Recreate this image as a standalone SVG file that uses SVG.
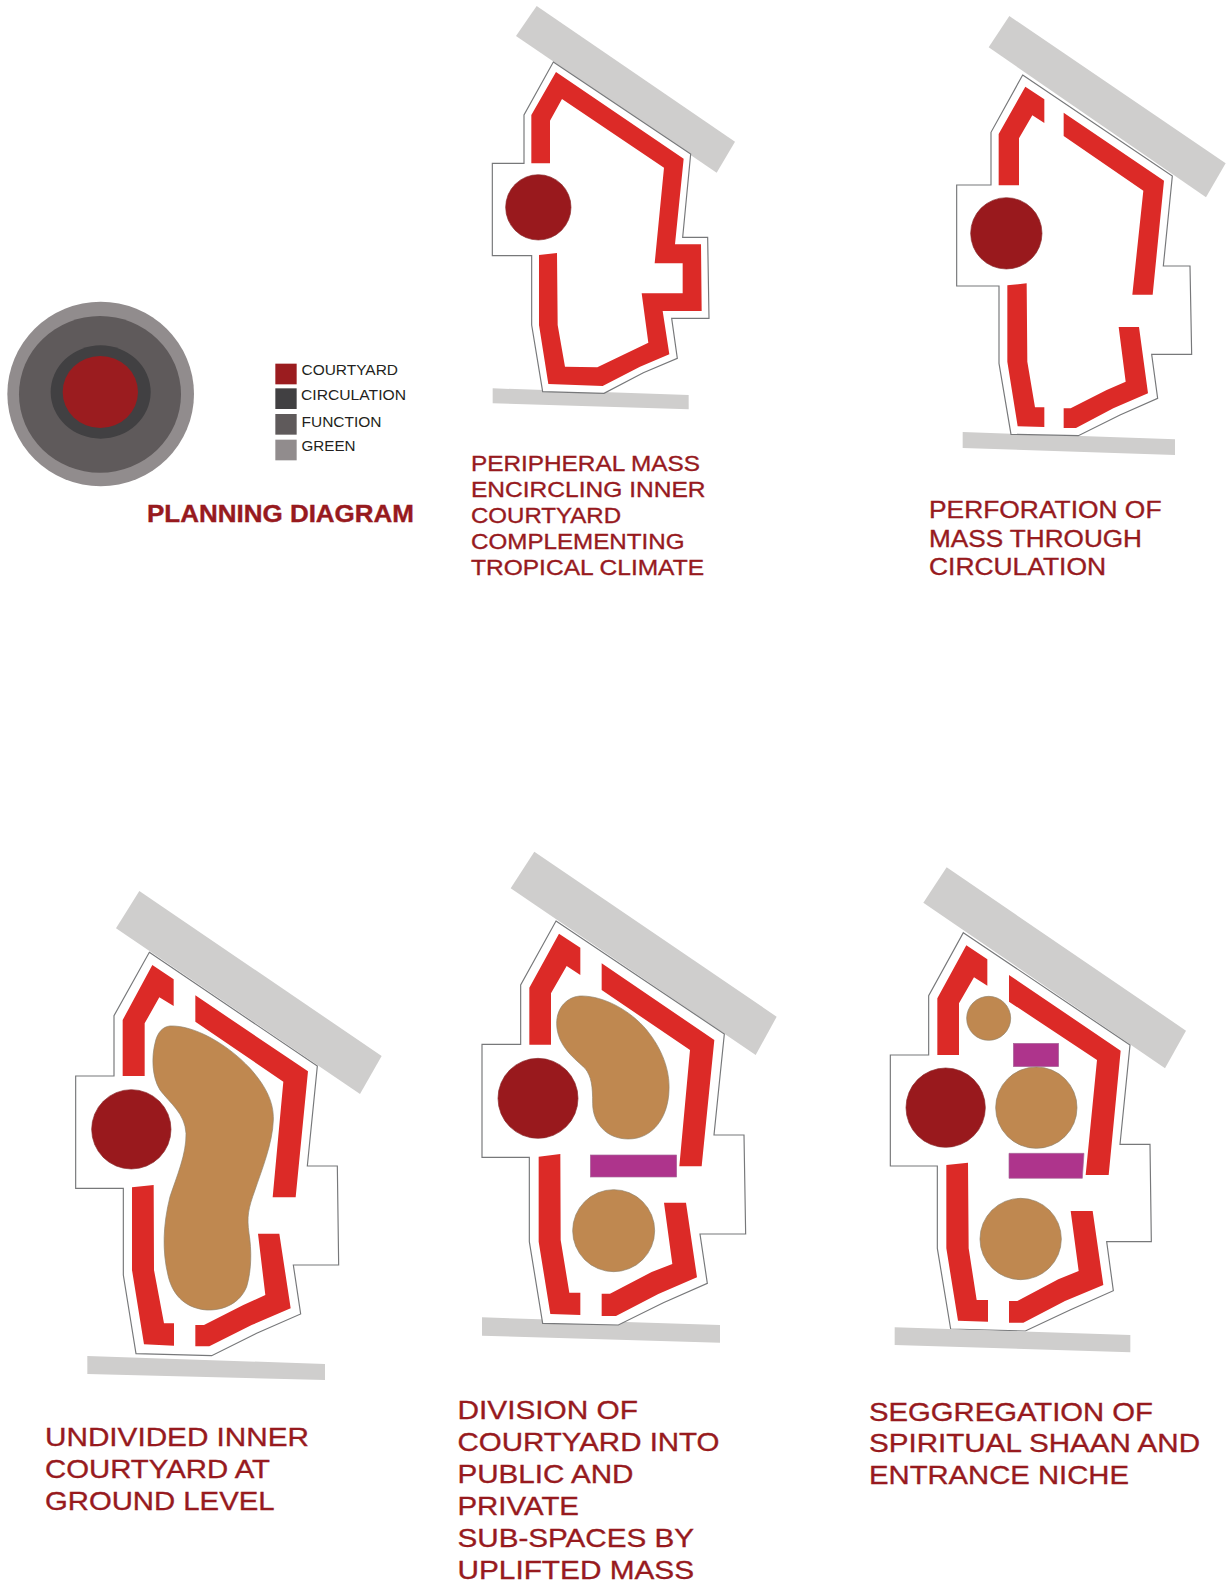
<svg xmlns="http://www.w3.org/2000/svg" width="1230" height="1585" viewBox="0 0 1230 1585">
<style>
.road{fill:#cfcecd}
.out{fill:#fff;stroke:#77787a;stroke-width:3.5;stroke-linejoin:miter}
.red{fill:#dc2a27}
.court{fill:#99191d;stroke:#8a2a2c;stroke-width:2}
.br{fill:#bf8850;stroke:#8f8068;stroke-width:2}
.pu{fill:#ae348c;stroke:#a86a9a;stroke-width:2}
text{font-family:"Liberation Sans",Arial,sans-serif}
.t{fill:#971a1e;stroke:#971a1e;stroke-width:.35}
.m{font-size:22.500px}
.p{font-size:23.500px}
.l{font-size:26.500px}
.k{fill:#231f20;font-size:15px}
</style>
<rect width="1230" height="1585" fill="#fff"/>

<g id="planning" transform="translate(0,280) scale(.33333)">
<ellipse cx="302" cy="342" rx="280" ry="277" fill="#918c8d"/>
<ellipse cx="300" cy="343" rx="243" ry="235" fill="#5f5a5b"/>
<ellipse cx="302" cy="336" rx="150" ry="140" fill="#414042"/>
<ellipse cx="301" cy="336" rx="113" ry="108" fill="#9b1c1f"/>
</g>
<g id="legend" transform="translate(0,280) scale(.33333)">
<rect x="826" y="251" width="64" height="62" fill="#9b1c1f"/>
<rect x="826" y="325" width="64" height="62" fill="#414042"/>
<rect x="826" y="402" width="64" height="62" fill="#5f5a5b"/>
<rect x="826" y="479" width="64" height="62" fill="#918c8d"/>
</g>
<g id="legend-labels">
<text class="k" x="301.500" y="375" textLength="96.500" lengthAdjust="spacingAndGlyphs">COURTYARD</text>
<text class="k" x="301" y="399.500" textLength="105" lengthAdjust="spacingAndGlyphs">CIRCULATION</text>
<text class="k" x="301.500" y="426.500" textLength="80" lengthAdjust="spacingAndGlyphs">FUNCTION</text>
<text class="k" x="301.500" y="451" textLength="54" lengthAdjust="spacingAndGlyphs">GREEN</text>
</g>
<text id="planning-title" class="t" x="147" y="522" font-size="23" font-weight="700" textLength="267" lengthAdjust="spacingAndGlyphs">PLANNING DIAGRAM</text>

<g id="panel-1" transform="translate(470,0) scale(.33333)">
<polygon class="road" points="200,18 795,425 740,518 138,108"/>
<polygon class="road" points="68,1165 656,1185 656,1228 68,1210"/>
<polygon class="out" points="250,186 662,462 638,712 713,712 717,955 605,955 622,1075 520,1118 402,1180 218,1175 185,975 185,767 67,767 67,490 162,490 162,345"/>
<polygon class="red" points="258,216 641,476 615,733 693,733 695,933 578,933 598,1063 510,1100 398,1158 235,1152 207,975 207,765 261,759 263,975 285,1100 382,1102 535,1028 515,880 638,880 638,790 554,790 582,503 276,297 240,362 240,490 184,490 184,345"/>
<circle class="court" cx="205" cy="622" r="98"/>
</g>
<g id="caption-1" class="t m">
<text x="471" y="471" textLength="229" lengthAdjust="spacingAndGlyphs">PERIPHERAL MASS</text>
<text x="471" y="497" textLength="234.500" lengthAdjust="spacingAndGlyphs">ENCIRCLING INNER</text>
<text x="471" y="523" textLength="150" lengthAdjust="spacingAndGlyphs">COURTYARD</text>
<text x="471" y="549" textLength="213.500" lengthAdjust="spacingAndGlyphs">COMPLEMENTING</text>
<text x="471" y="575" textLength="233" lengthAdjust="spacingAndGlyphs">TROPICAL CLIMATE</text>
</g>

<g id="panel-2" transform="translate(940,0) scale(.33333)">
<polygon class="road" points="208,48 857,490 798,592 146,142"/>
<polygon class="road" points="68,1296 705,1318 705,1365 68,1344"/>
<polygon class="out" points="248,225 697,528 670,798 750,798 755,1063 635,1063 653,1195 540,1245 415,1307 213,1303 177,1090 177,858 50,858 50,555 153,555 153,397"/>
<polygon class="red" points="256,260 313,298 313,369 277,346 237,415 237,556 176,556 176,402"/>
<polygon class="red" points="371,338 672,542 638,884 577,884 610,572 371,408"/>
<polygon class="red" points="202,856 260,850 262,1085 285,1222 313,1222 313,1281 233,1279 202,1085"/>
<polygon class="red" points="536,981 597,981 624,1180 520,1225 408,1284 371,1284 371,1225 392,1225 500,1170 557,1145"/>
<circle class="court" cx="199" cy="700" r="107"/>
</g>
<g id="caption-2" class="t p">
<text x="929" y="518" textLength="232.500" lengthAdjust="spacingAndGlyphs">PERFORATION OF</text>
<text x="929" y="546.500" textLength="213" lengthAdjust="spacingAndGlyphs">MASS THROUGH</text>
<text x="929" y="575" textLength="177" lengthAdjust="spacingAndGlyphs">CIRCULATION</text>
</g>

<g id="panel-3" transform="translate(70,880) scale(.33333)">
<polygon class="road" points="208,33 935,528 870,642 138,145"/>
<polygon class="road" points="52,1428 765,1452 765,1500 52,1482"/>
<polygon class="out" points="238,217 742,558 712,858 802,858 806,1155 670,1155 692,1302 560,1360 425,1427 198,1421 160,1185 160,925 17,925 17,588 132,588 132,407"/>
<polygon class="red" points="247,255 311,298 311,378 268,352 224,430 224,588 158,588 158,420"/>
<polygon class="red" points="376,346 714,574 677,952 608,952 640,605 376,425"/>
<polygon class="red" points="186,922 251,915 252,1170 282,1330 312,1330 312,1397 222,1393 186,1170"/>
<polygon class="red" points="564,1061 628,1061 662,1285 545,1335 418,1399 376,1399 376,1335 402,1335 520,1275 586,1245"/>
<circle class="court" cx="184" cy="748" r="119"/>
<path class="br" d="M300,438C370,435 470,490 540,565C580,610 612,660 610,720C608,790 575,870 555,930C535,985 530,1010 537,1060C545,1110 545,1170 530,1220C510,1270 460,1292 410,1290C350,1285 310,1250 295,1190C275,1110 280,1030 300,950C320,890 350,820 348,760C345,700 300,670 270,630C245,590 245,530 255,490C262,455 280,440 300,438Z"/>
</g>
<g id="caption-3" class="t l">
<text x="45" y="1446" textLength="264" lengthAdjust="spacingAndGlyphs">UNDIVIDED INNER</text>
<text x="45" y="1478" textLength="225" lengthAdjust="spacingAndGlyphs">COURTYARD AT</text>
<text x="45" y="1510" textLength="229.500" lengthAdjust="spacingAndGlyphs">GROUND LEVEL</text>
</g>

<g id="panel-4" transform="translate(470,840) scale(.33333)">
<polygon class="road" points="193,35 920,530 857,645 122,145"/>
<polygon class="road" points="36,1432 750,1455 750,1508 36,1487"/>
<polygon class="out" points="258,243 763,582 732,885 822,885 827,1182 690,1182 712,1330 580,1388 445,1455 218,1450 178,1205 178,952 36,952 36,613 152,613 152,435"/>
<polygon class="red" points="267,281 331,323 331,405 290,378 243,460 243,614 178,614 178,443"/>
<polygon class="red" points="395,370 733,600 695,979 628,979 660,630 395,450"/>
<polygon class="red" points="206,950 271,942 272,1200 298,1358 331,1358 331,1425 241,1422 206,1205"/>
<polygon class="red" points="582,1088 648,1088 681,1312 565,1362 438,1428 395,1428 395,1361 420,1361 545,1296 607,1272"/>
<circle class="court" cx="204" cy="775" r="120"/>
<path class="br" d="M335,468C400,468 480,510 530,570C575,625 600,690 597,750C595,830 550,897 475,897C410,897 368,850 368,790C368,740 365,710 345,685C320,660 260,620 260,550C260,500 295,468 335,468Z"/>
<rect class="pu" x="361" y="945" width="259" height="66"/>
<circle class="br" cx="431" cy="1172" r="123"/>
</g>
<g id="caption-4" class="t l">
<text x="457.500" y="1419" textLength="180.500" lengthAdjust="spacingAndGlyphs">DIVISION OF</text>
<text x="457.500" y="1451" textLength="262" lengthAdjust="spacingAndGlyphs">COURTYARD INTO</text>
<text x="457.500" y="1483" textLength="176" lengthAdjust="spacingAndGlyphs">PUBLIC AND</text>
<text x="457.500" y="1515" textLength="121.500" lengthAdjust="spacingAndGlyphs">PRIVATE</text>
<text x="457.500" y="1547" textLength="236.500" lengthAdjust="spacingAndGlyphs">SUB-SPACES BY</text>
<text x="457.500" y="1579" textLength="236.500" lengthAdjust="spacingAndGlyphs">UPLIFTED MASS</text>
</g>

<g id="panel-5" transform="translate(880,860) scale(.33333)">
<polygon class="road" points="200,22 918,512 855,625 130,128"/>
<polygon class="out" points="250,218 750,555 720,853 810,853 814,1145 680,1145 700,1292 570,1350 436,1413 212,1407 172,1165 172,918 31,918 31,585 146,585 146,407"/>
<polygon class="road" points="44,1402 751,1425 751,1477 44,1455"/>
<polygon class="red" points="259,256 322,298 322,377 282,352 237,430 237,585 172,585 172,415"/>
<polygon class="red" points="387,345 722,572 686,945 617,945 651,600 387,425"/>
<polygon class="red" points="199,915 264,908 266,1165 290,1320 324,1320 324,1385 234,1382 199,1165"/>
<polygon class="red" points="572,1053 638,1053 670,1275 555,1323 430,1388 387,1388 387,1323 412,1323 535,1258 596,1233"/>
<circle class="court" cx="197" cy="743" r="119"/>
<circle class="br" cx="326" cy="475" r="66"/>
<rect class="pu" x="400" y="550" width="136" height="70"/>
<circle class="br" cx="469" cy="743" r="122"/>
<polygon class="pu" points="387,880 612,880 607,955 387,955"/>
<circle class="br" cx="422" cy="1137" r="122"/>
</g>
<g id="caption-5" class="t l">
<text x="869" y="1420.500" textLength="284" lengthAdjust="spacingAndGlyphs">SEGGREGATION OF</text>
<text x="869" y="1452" textLength="331" lengthAdjust="spacingAndGlyphs">SPIRITUAL SHAAN AND</text>
<text x="869" y="1484" textLength="260" lengthAdjust="spacingAndGlyphs">ENTRANCE NICHE</text>
</g>
</svg>
